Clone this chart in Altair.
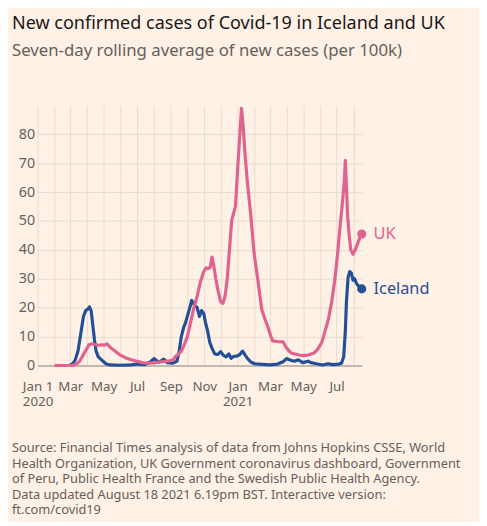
import altair as alt
import pandas as pd

title_text = "New confirmed cases of Covid-19 in Iceland and UK"
subtitle_text = "Seven-day rolling average of new cases (per 100k)"
source_lines = [
    "Source: Financial Times analysis of data from Johns Hopkins CSSE, World",
    "Health Organization, UK Government coronavirus dashboard, Government",
    "of Peru, Public Health France and the Swedish Public Health Agency.",
    "Data updated August 18 2021 6.19pm BST. Interactive version:",
    "ft.com/covid19",
]

uk_dates = [
    "2020-02-01", "2020-02-20", "2020-03-05", "2020-03-12", "2020-03-18", "2020-03-24",
    "2020-03-30", "2020-04-04", "2020-04-10", "2020-04-16", "2020-04-22", "2020-04-28",
    "2020-05-02", "2020-05-07", "2020-05-12", "2020-05-18", "2020-05-25", "2020-06-01",
    "2020-06-10", "2020-06-20", "2020-07-01", "2020-07-10", "2020-07-20", "2020-08-01",
    "2020-08-10", "2020-08-20", "2020-08-30", "2020-09-05", "2020-09-10", "2020-09-15",
    "2020-09-20", "2020-09-25", "2020-10-01", "2020-10-07", "2020-10-13", "2020-10-19",
    "2020-10-25", "2020-10-31", "2020-11-04", "2020-11-08", "2020-11-12", "2020-11-15",
    "2020-11-18", "2020-11-22", "2020-11-26", "2020-12-01", "2020-12-05", "2020-12-09",
    "2020-12-13", "2020-12-17", "2020-12-21", "2020-12-25", "2020-12-28", "2021-01-01",
    "2021-01-05", "2021-01-08", "2021-01-11", "2021-01-15", "2021-01-19", "2021-01-25",
    "2021-01-31", "2021-02-07", "2021-02-14", "2021-02-20", "2021-02-25", "2021-03-02",
    "2021-03-06", "2021-03-15", "2021-03-25", "2021-03-30", "2021-04-05", "2021-04-10",
    "2021-04-20", "2021-04-30", "2021-05-10", "2021-05-20", "2021-05-27", "2021-06-04",
    "2021-06-10", "2021-06-16", "2021-06-22", "2021-06-28", "2021-07-03", "2021-07-07",
    "2021-07-11", "2021-07-15", "2021-07-17", "2021-07-19", "2021-07-21", "2021-07-24",
    "2021-07-27", "2021-07-31", "2021-08-04", "2021-08-08", "2021-08-12", "2021-08-16",
]
uk_values = [
    0, 0, 0.1, 0.5, 1.5, 3.5,
    5.5, 7.2, 7.5, 7.2, 7.0, 7.2,
    7.0, 7.5, 6.5, 5.5, 4.5, 3.5,
    2.7, 2.0, 1.5, 1.0, 0.8, 0.9,
    1.2, 1.4, 1.6, 2.0, 3.2, 4.0,
    5.0, 7.0, 10, 15, 20, 24,
    29, 32.5, 33.8, 33.5, 34, 37.5,
    35, 30, 26, 22, 21.5, 24,
    30, 40, 50, 53, 55, 68,
    80, 89, 83, 72, 63, 52,
    39, 29.5, 19.5, 16, 13.5, 10.5,
    8.5, 8.3, 8.2, 6.5, 5, 4.2,
    3.8, 3.4, 3.6, 4.2, 5.5, 8,
    12, 16, 22, 30, 39, 47.5,
    55, 63.5, 71, 62, 52, 45,
    40, 38.5, 40, 42, 44, 45.5,
]

ice_dates = [
    "2020-02-28", "2020-03-05", "2020-03-10", "2020-03-15", "2020-03-20", "2020-03-25",
    "2020-03-29", "2020-04-02", "2020-04-05", "2020-04-08", "2020-04-11", "2020-04-14",
    "2020-04-17", "2020-04-21", "2020-04-28", "2020-05-05", "2020-05-12", "2020-06-01",
    "2020-06-20", "2020-07-01", "2020-07-15", "2020-07-25", "2020-08-01", "2020-08-05",
    "2020-08-10", "2020-08-19", "2020-08-25", "2020-09-05", "2020-09-12", "2020-09-16",
    "2020-09-20", "2020-09-24", "2020-09-28", "2020-10-04", "2020-10-09", "2020-10-14",
    "2020-10-19", "2020-10-23", "2020-10-27", "2020-10-31", "2020-11-03", "2020-11-07",
    "2020-11-11", "2020-11-15", "2020-11-20", "2020-11-26", "2020-12-01", "2020-12-06",
    "2020-12-11", "2020-12-16", "2020-12-20", "2020-12-25", "2020-12-30", "2021-01-05",
    "2021-01-10", "2021-01-15", "2021-01-20", "2021-01-25", "2021-02-01", "2021-02-15",
    "2021-03-01", "2021-03-15", "2021-03-25", "2021-04-01", "2021-04-08", "2021-04-15",
    "2021-04-22", "2021-04-30", "2021-05-10", "2021-05-15", "2021-05-25", "2021-06-05",
    "2021-06-15", "2021-06-25", "2021-07-05", "2021-07-10", "2021-07-14", "2021-07-17",
    "2021-07-19", "2021-07-22", "2021-07-25", "2021-07-28", "2021-07-31", "2021-08-03",
    "2021-08-06", "2021-08-10", "2021-08-16",
]
ice_values = [
    0, 0.5, 2, 5, 11, 17,
    19, 19.5, 20.3, 19, 14, 9,
    5, 3, 1.8, 0.6, 0.2, 0.1,
    0.2, 0.5, 0.3, 1.2, 2.4, 1.8,
    1.2, 2.2, 1.0, 0.8, 1.5, 5,
    10, 13, 15, 19, 22.5, 21,
    20, 17, 19, 18, 15, 12,
    8, 6, 4, 3.8, 4.8, 3.5,
    3, 4, 2.5, 3.2, 3.2, 3.8,
    5, 3.5, 2.2, 1.2, 0.6, 0.4,
    0.2, 0.5, 1.3, 2.4, 1.8, 1.5,
    2.0, 1.0, 1.5, 1.0, 0.6, 0.2,
    0.6, 0.3, 0.5, 0.8, 3, 12,
    22, 30.5, 32.5, 32, 29.5, 30,
    28.5, 27.5, 26.5,
]

y_ticks = [0, 10, 20, 30, 40, 50, 60, 70, 80]
grid_months = pd.date_range("2020-01-01", "2021-08-01", freq="MS")

UK_COLOR = "#E0628F"
ICE_COLOR = "#234F97"
GRAY = "#66605C"
BG = "#FFF1E5"
FONT = "Noto Sans"

uk_df = pd.DataFrame({"date": uk_dates, "value": uk_values, "country": "UK"})
ice_df = pd.DataFrame({"date": ice_dates, "value": ice_values, "country": "Iceland"})
end_df = pd.DataFrame({
    "date": [uk_dates[-1], ice_dates[-1]],
    "value": [uk_values[-1], ice_values[-1]],
    "country": ["UK", "Iceland"],
})

x_values = [alt.DateTime(year=int(d.year), month=int(d.month), date=1, utc=True) for d in grid_months]

label_expr = (
    "utcmonth(datum.value) % 2 == 1 ? '' : "
    "(utcmonth(datum.value) == 0 ? (utcyear(datum.value) == 2020 ? ['Jan 1', '2020'] : ['Jan', '2021']) "
    ": utcFormat(datum.value, '%b'))"
)

x_enc = alt.X(
    "date:T",
    scale=alt.Scale(
        type="utc",
        domain=[alt.DateTime(year=2020, month=1, date=1, utc=True),
                alt.DateTime(year=2021, month=8, date=16, utc=True)],
    ),
    axis=alt.Axis(
        title=None, values=x_values, labelExpr=label_expr, grid=True, ticks=False,
        domain=True, domainColor="#8f8a86", domainWidth=1.2,
        gridColor="#E8DBD0", gridWidth=1, labelColor=GRAY, labelFont=FONT,
        labelFontSize=13.5, labelPadding=14, labelOverlap=False, labelLineHeight=16,
        labelAlign="center", labelBaseline="top",
    ),
)
y_enc = alt.Y(
    "value:Q",
    scale=alt.Scale(domain=[0, 90], nice=False),
    axis=alt.Axis(
        title=None, values=y_ticks, grid=True, ticks=False, domain=False,
        gridColor="#E8DBD0", labelColor=GRAY, labelFont=FONT, labelFontSize=14.5,
        labelPadding=3, labelOverlap=False,
    ),
)

color_scale = alt.Scale(domain=["UK", "Iceland"], range=[UK_COLOR, ICE_COLOR])

ice_line = alt.Chart(ice_df).mark_line(strokeWidth=3.2, color=ICE_COLOR, strokeJoin="round").encode(
    x=x_enc, y=y_enc
)
uk_line = alt.Chart(uk_df).mark_line(strokeWidth=3.2, color=UK_COLOR, strokeJoin="round").encode(
    x=x_enc, y=y_enc
)
dots = alt.Chart(end_df).mark_circle(size=85, opacity=1).encode(
    x=x_enc, y=y_enc,
    color=alt.Color("country:N", scale=color_scale, legend=None),
)
end_labels = alt.Chart(end_df).mark_text(align="left", baseline="middle", dx=12, fontSize=16.5, font=FONT).encode(
    x=x_enc, y=y_enc, text="country:N",
    color=alt.Color("country:N", scale=color_scale, legend=None),
)
source = alt.Chart(pd.DataFrame({"a": [0]})).mark_text(
    text=source_lines, align="left", baseline="top", lineHeight=15.8,
    fontSize=13, font=FONT, color=GRAY,
).encode(x=alt.value(-26), y=alt.value(342))

chart = alt.layer(ice_line, uk_line, dots, end_labels, source).properties(
    width=329, height=264,
    padding={"left": 4, "top": 2, "right": 18, "bottom": 0},
    background=BG,
    title=alt.TitleParams(
        text=title_text, subtitle=subtitle_text, anchor="start", frame="group", dx=-26,
        font=FONT, fontSize=18.3, fontWeight="normal", color="#1a1817",
        subtitleFont=FONT, subtitleFontSize=17, subtitleColor=GRAY, subtitlePadding=10,
        offset=46,
    ),
).configure_view(stroke=None)

chart.save("out.html", embed_options={"renderer": "svg", "actions": False})
